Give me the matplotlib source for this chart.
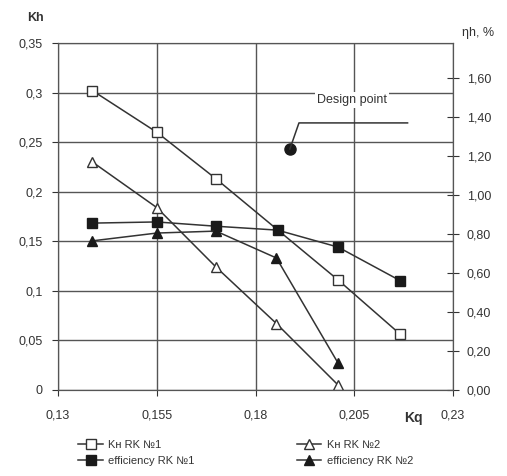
import matplotlib
matplotlib.use("Agg")
from matplotlib import pyplot as plt

plt.rcParams['font.family'] = ['Liberation Sans', 'DejaVu Sans']

# data
kq_kh1 = [0.1387, 0.155, 0.170, 0.2009, 0.2167]
kh1 = [0.302, 0.260, 0.213, 0.111, 0.056]
kq_kh2 = [0.1387, 0.155, 0.170, 0.1853, 0.2009]
kh2 = [0.230, 0.184, 0.124, 0.067, 0.005]
kq_eff1 = [0.1387, 0.155, 0.170, 0.1856, 0.2009, 0.2167]
eff1 = [0.856, 0.862, 0.84, 0.82, 0.733, 0.56]
kq_eff2 = [0.1387, 0.155, 0.170, 0.1853, 0.2009]
eff2 = [0.765, 0.805, 0.815, 0.677, 0.138]
design_kq = 0.1887
design_eff = 1.236

xticks = [0.13, 0.155, 0.18, 0.205, 0.23]
xlabels = ['0,13', '0,155', '0,18', '0,205', '0,23']
yticks = [0, 0.05, 0.1, 0.15, 0.2, 0.25, 0.3, 0.35]
ylabels = ['0', '0,05', '0,1', '0,15', '0,2', '0,25', '0,3', '0,35']
rticks = [0, 0.2, 0.4, 0.6, 0.8, 1.0, 1.2, 1.4, 1.6]
rlabels = ['0,00', '0,20', '0,40', '0,60', '0,80', '1,00', '1,20', '1,40', '1,60']

txt = '#333333'
fig = plt.figure(figsize=(5.07, 4.76), dpi=100)
ax = fig.add_axes([0.1144, 0.1807, 0.7791, 0.729])
ax2 = ax.twinx()

ax.set_xlim(0.13, 0.23)
ax.set_ylim(0, 0.35)
ax2.set_ylim(0, 1.78)
ax.set_xticks(xticks)
ax.set_xticklabels(xlabels)
ax.set_yticks(yticks)
ax.set_yticklabels(ylabels)
ax2.set_yticks(rticks)
ax2.set_yticklabels(rlabels)
ax.grid(True, color='#555555', lw=1.0)
ax.set_axisbelow(True)
for a in (ax, ax2):
    for s in a.spines.values():
        s.set_color('#555555')
ax.tick_params(axis='both', labelsize=9, colors=txt, length=4, pad=7)
ax.tick_params(axis='x', pad=10)
ax2.tick_params(axis='y', labelsize=9, colors=txt, direction='inout', length=8, pad=6)

lc = '#333333'
l1, = ax.plot(kq_kh1, kh1, color=lc, lw=1.1, marker='s', ms=6.5, mfc='white', mec=lc, label='Kн RK №1')
l2, = ax.plot(kq_kh2, kh2, color=lc, lw=1.1, marker='^', ms=6.5, mfc='white', mec=lc, label='Kн RK №2')
l3, = ax2.plot(kq_eff1, eff1, color=lc, lw=1.1, marker='s', ms=6.5, mfc='#1a1a1a', mec='#1a1a1a', label='efficiency RK №1')
l4, = ax2.plot(kq_eff2, eff2, color=lc, lw=1.1, marker='^', ms=6.5, mfc='#1a1a1a', mec='#1a1a1a', label='efficiency RK №2')
ax2.plot([design_kq], [design_eff], 'o', color='#1a1a1a', ms=8)
ax2.text(0.2045, 1.487, 'Design point', ha='center', va='center', fontsize=9, color=txt,
         bbox=dict(facecolor='white', edgecolor='none', pad=1.5))
ax2.plot([design_kq, 0.191, 0.2185], [design_eff, 1.37, 1.37], color=lc, lw=1.1)

fig.text(0.07, 0.962, 'Kh', fontsize=9, fontweight='bold', color=txt, ha='center', va='center')
fig.text(0.912, 0.93, 'ηh, %', fontsize=9, color=txt, ha='left', va='center')
fig.text(0.815, 0.122, 'Kq', fontsize=10, fontweight='bold', color=txt, ha='center', va='center')

fig.legend(handles=[l1, l3, l2, l4], ncol=2, loc='lower left', bbox_to_anchor=(0.135, 0.0),
           frameon=False, fontsize=8, handlelength=2.2, columnspacing=9.2, labelspacing=0.55,
           handletextpad=0.5, labelcolor=txt)

fig.savefig('out.png', dpi=100)
